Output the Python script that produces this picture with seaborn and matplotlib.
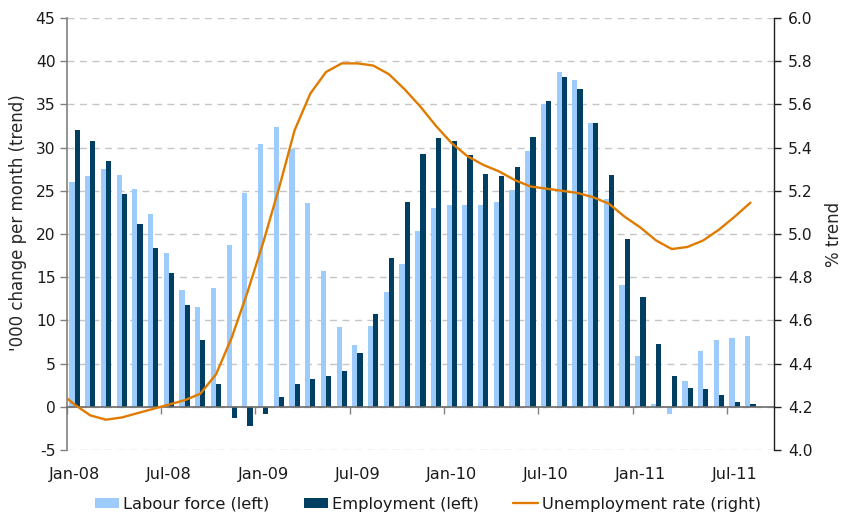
import numpy as np
import pandas as pd
import matplotlib
matplotlib.use("Agg")
import matplotlib.pyplot as plt
import seaborn as sns
from matplotlib.patches import Patch
from matplotlib.lines import Line2D
from matplotlib.ticker import FormatStrFormatter

# ---------------- data ----------------
months = [d.strftime("%b-%y") for d in pd.date_range("2008-01-01", periods=44, freq="MS")]

labour_force = [26.0, 26.7, 27.5, 26.8, 25.2, 22.3, 17.8, 13.5, 11.6, 13.8, 18.7, 24.8,
                30.4, 32.4, 29.8, 23.6, 15.7, 9.2, 7.2, 9.4, 13.3, 16.5, 20.3, 23.0,
                23.3, 23.3, 23.3, 23.7, 25.1, 29.6, 35.0, 38.7, 37.8, 32.8, 24.0, 14.1,
                5.9, 0.3, -0.8, 3.0, 6.4, 7.7, 7.9, 8.2]

employment = [32.0, 30.8, 28.4, 24.6, 21.1, 18.4, 15.5, 11.8, 7.7, 2.6, -1.3, -2.2,
              -0.8, 1.1, 2.6, 3.2, 3.6, 4.1, 6.2, 10.7, 17.2, 23.7, 29.2, 31.1,
              30.8, 29.1, 26.9, 26.7, 27.8, 31.2, 35.4, 38.2, 36.8, 32.9, 26.8, 19.4,
              12.7, 7.3, 3.6, 2.2, 2.1, 1.4, 0.6, 0.3]

# unemployment rate starts one month earlier (Dec-07), clipped at the axis edge
rate_months = ["Dec-07"] + months
unemployment_rate = [4.27, 4.21, 4.16, 4.14, 4.15, 4.17, 4.19, 4.21, 4.23, 4.26, 4.35, 4.52,
                     4.73, 4.96, 5.21, 5.48, 5.65, 5.75, 5.79, 5.79, 5.78, 5.74, 5.67, 5.59,
                     5.50, 5.42, 5.36, 5.32, 5.29, 5.25, 5.22, 5.21, 5.20, 5.19, 5.17, 5.14,
                     5.08, 5.03, 4.97, 4.93, 4.94, 4.97, 5.02, 5.08, 5.145]

x_tick_labels = ["Jan-08", "Jul-08", "Jan-09", "Jul-09", "Jan-10", "Jul-10", "Jan-11", "Jul-11"]
left_ticks = list(range(-5, 50, 5))
right_ticks = [4.0, 4.2, 4.4, 4.6, 4.8, 5.0, 5.2, 5.4, 5.6, 5.8, 6.0]

series_names = ["Labour force (left)", "Employment (left)"]
line_name = "Unemployment rate (right)"

# ---------------- style ----------------
light_blue = "#9dcbfb"
dark_blue = "#003f62"
orange = "#e07b00"
grid_col = "#c6c6c6"
axis_grey = "#808080"
txt = "#1a1a1a"

sns.set_theme(style="ticks")
plt.rcParams["font.family"] = ["DejaVu Sans"]
plt.rcParams["font.size"] = 11
plt.rcParams["axes.unicode_minus"] = False
plt.rcParams["text.color"] = txt
plt.rcParams["xtick.color"] = txt
plt.rcParams["ytick.color"] = txt

df = pd.DataFrame({
    "month": months * 2,
    "value": labour_force + employment,
    "series": [series_names[0]] * len(months) + [series_names[1]] * len(months),
})

fig = plt.figure(figsize=(8.42, 5.15), dpi=100)
ax = fig.add_axes([0.0792, 0.1264, 0.8400, 0.8386])

sns.barplot(data=df, x="month", y="value", hue="series", order=months,
            hue_order=series_names, palette=[light_blue, dark_blue],
            width=0.66, saturation=1, linewidth=0, legend=False, ax=ax)

ax2 = ax.twinx()
rate_pos = np.arange(len(rate_months)) - rate_months.index(months[0])
sns.lineplot(x=rate_pos, y=unemployment_rate, color=orange, linewidth=1.7, ax=ax2)

# ---------------- axes ----------------
n_slots = len(months) + 1
ax.set_xlim(-0.5, n_slots - 0.5)
ax.set_ylim(left_ticks[0], left_ticks[-1])
ax.set_yticks(left_ticks)
ax2.set_ylim(right_ticks[0], right_ticks[-1])
ax2.set_yticks(right_ticks)
ax2.yaxis.set_major_formatter(FormatStrFormatter("%.1f"))

label_pos = [months.index(m) for m in x_tick_labels]
boundary_pos = [p - 0.5 for p in label_pos]
ax.set_xticks(boundary_pos)
ax.tick_params(axis="x", direction="out", length=5, width=1, color=axis_grey,
               labelbottom=False)
ax.set_xlabel("")

sec = ax.secondary_xaxis(0)
sec.set_xticks(label_pos, x_tick_labels)
sec.tick_params(length=0, pad=12, labelsize=11.6)
sec.spines["bottom"].set_visible(False)

ax.spines["bottom"].set_position(("data", 0))
ax.spines["bottom"].set_color("#6b6b6b")
ax.spines["bottom"].set_linewidth(1.2)
ax.spines["top"].set_visible(False)
ax.spines["right"].set_visible(False)
ax.spines["left"].set_color(axis_grey)
ax.spines["left"].set_linewidth(1.2)

for s in ["top", "bottom", "left"]:
    ax2.spines[s].set_visible(False)
ax2.spines["right"].set_color("#202020")
ax2.spines["right"].set_linewidth(1.0)

ax.tick_params(axis="y", direction="out", length=5, width=1, color=axis_grey,
               labelsize=11.2, pad=3, left=True)
ax2.tick_params(axis="y", direction="out", length=5, width=1, color="#202020",
                labelsize=11.2, pad=5, right=True)

ax.set_axisbelow(True)
ax.yaxis.grid(True, color=grid_col, linestyle=(0, (5, 4)), linewidth=1.0)
ax.xaxis.grid(False)
ax2.grid(False)

ax.set_ylabel("'000 change per month (trend)", fontsize=12)
ax.yaxis.set_label_coords(-0.056, 0.527)
ax2.set_ylabel("% trend", fontsize=12, labelpad=9)

handles = [Patch(facecolor=light_blue, edgecolor="none"),
           Patch(facecolor=dark_blue, edgecolor="none"),
           Line2D([0], [0], color=orange, linewidth=1.7)]
fig.legend(handles, series_names + [line_name], loc="center",
           bbox_to_anchor=(0.508, 0.021), ncol=3, frameon=False, fontsize=11.7,
           handlelength=1.5, handleheight=0.62, handletextpad=0.25,
           columnspacing=2.1)

fig.savefig("out.png", dpi=100)
